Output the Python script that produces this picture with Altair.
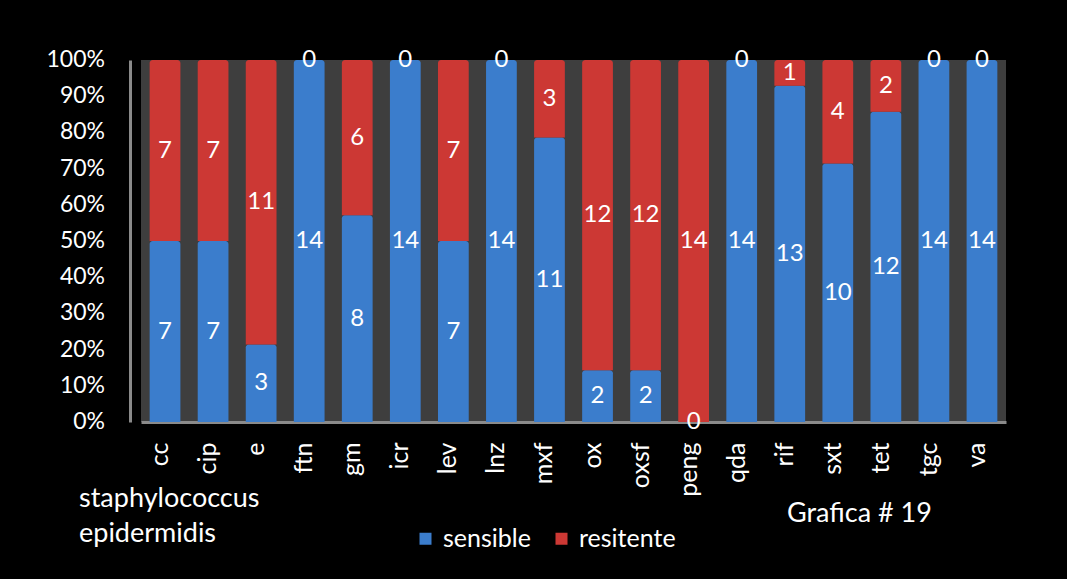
import altair as alt
import pandas as pd

categories = ["cc", "cip", "e", "ftn", "gm", "icr", "lev", "lnz", "mxf", "ox",
              "oxsf", "peng", "qda", "rif", "sxt", "tet", "tgc", "va"]
sensible = [7, 7, 3, 14, 8, 14, 7, 14, 11, 2, 2, 0, 14, 13, 10, 12, 14, 14]
resitente = [7, 7, 11, 0, 6, 0, 7, 0, 3, 12, 12, 14, 0, 1, 4, 2, 0, 0]
series_names = ["sensible", "resitente"]
series_colors = ["#3b7dcc", "#cc3834"]
y_ticks = [0, 0.1, 0.2, 0.3, 0.4, 0.5, 0.6, 0.7, 0.8, 0.9, 1.0]
y_tick_labels = ["0%", "10%", "20%", "30%", "40%", "50%", "60%", "70%", "80%", "90%", "100%"]

rows = []
for i, c in enumerate(categories):
    rows.append({"cat": c, "serie": "sensible", "order": 0, "value": sensible[i]})
    rows.append({"cat": c, "serie": "resitente", "order": 1, "value": resitente[i]})
df = pd.DataFrame(rows)
ticks_df = pd.DataFrame({"v": y_ticks, "lab": y_tick_labels})

FONT = "Lato"

base = alt.Chart(df).transform_stack(
    stack="value", as_=["y0", "y1"], groupby=["cat"],
    sort=[alt.SortField("order", order="ascending")], offset="normalize"
).transform_calculate(mid="(datum.y0 + datum.y1) / 2")

xaxis = alt.Axis(labelAngle=270, labelFontSize=25, labelColor="white",
                 labelFont=FONT, labelPadding=20, ticks=False,
                 domainColor="#8a8a8a", domainWidth=3, labelOffset=-5)
yaxis = alt.Axis(labels=False, ticks=False, grid=False, offset=11,
                 domainColor="#8a8a8a", domainWidth=3)
xscale = alt.Scale(paddingInner=0.36, paddingOuter=0.18)
yscale = alt.Scale(domain=[0, 1])

bars = base.mark_bar(cornerRadiusTopLeft=3, cornerRadiusTopRight=3).encode(
    x=alt.X("cat:N", sort=categories, title=None, scale=xscale, axis=xaxis),
    y=alt.Y("y0:Q", scale=yscale, title=None, axis=yaxis),
    y2="y1:Q",
    color=alt.Color("serie:N", scale=alt.Scale(domain=series_names, range=series_colors),
                    legend=alt.Legend(title=None, orient="none", direction="horizontal",
                                      legendX=272, legendY=466, symbolType="square",
                                      symbolSize=144, symbolStrokeWidth=0,
                                      labelFontSize=25, labelColor="white",
                                      labelFont=FONT, columnPadding=18, labelOffset=5,
                                      symbolOpacity=1)),
)

labels = base.mark_text(color="white", fontSize=24, font=FONT, baseline="middle").encode(
    x=alt.X("cat:N", sort=categories, title=None, scale=xscale, axis=xaxis),
    y=alt.Y("mid:Q", scale=yscale, title=None, axis=yaxis),
    text=alt.Text("value:Q"),
)

ylabels = alt.Chart(ticks_df).mark_text(
    color="white", fontSize=23, font=FONT, align="right", baseline="middle"
).encode(
    x=alt.value(-36),
    y=alt.Y("v:Q", scale=yscale, title=None, axis=yaxis),
    text="lab:N",
)

t1 = alt.Chart(pd.DataFrame({"t": ["staphylococcus"]})).mark_text(
    color="white", fontSize=27, font=FONT, align="left", baseline="middle"
).encode(x=alt.value(-62), y=alt.value(439), text="t:N")
t2 = alt.Chart(pd.DataFrame({"t": ["epidermidis"]})).mark_text(
    color="white", fontSize=27, font=FONT, align="left", baseline="middle"
).encode(x=alt.value(-62), y=alt.value(474), text="t:N")
t3 = alt.Chart(pd.DataFrame({"t": ["Grafica # 19"]})).mark_text(
    color="white", fontSize=27, font=FONT, align="left", baseline="middle"
).encode(x=alt.value(646), y=alt.value(454), text="t:N")

chart = alt.layer(bars, labels, ylabels, t1, t2, t3).properties(
    width=865, height=362,
    background="black",
    padding={"left": 141, "top": 60, "right": 61, "bottom": 157},
    autosize=alt.AutoSizeParams(type="none"),
).configure_view(fill="#3e3e3e", stroke=None)

chart.save("out.html", embed_options={"renderer": "svg", "actions": False})
